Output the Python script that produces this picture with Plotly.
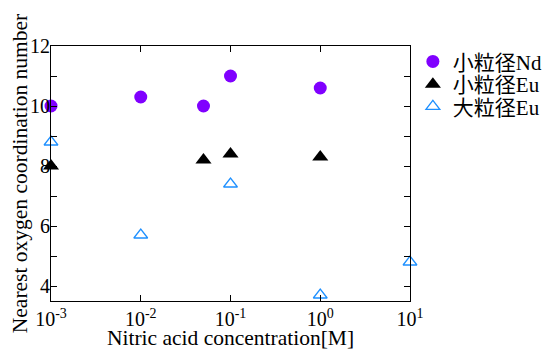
import plotly.graph_objects as go

nd_x = [0.001, 0.01, 0.05, 0.1, 1.0]
nd_y = [10.0, 10.3, 10.0, 11.0, 10.6]

eu_small_x = [0.001, 0.05, 0.1, 1.0]
eu_small_y = [8.0, 8.2, 8.4, 8.3]

eu_large_x = [0.001, 0.01, 0.1, 1.0, 10.0]
eu_large_y = [8.8, 5.7, 7.4, 3.7, 4.8]

names = ["小粒径Nd", "小粒径Eu", "大粒径Eu"]
x_tickvals = [0.001, 0.01, 0.1, 1, 10]
x_ticktext = ["10<sup>-3</sup>", "10<sup>-2</sup>", "10<sup>-1</sup>", "10<sup>0</sup>", "10<sup>1</sup>"]

FONT = "Liberation Serif, Times New Roman, Noto Sans CJK JP, serif"

fig = go.Figure()
fig.add_trace(go.Scatter(x=nd_x, y=nd_y, mode="markers", name=names[0],
                         marker=dict(symbol="circle", size=13, color="#8000ff"),
                         cliponaxis=False, legend="legend"))
fig.add_trace(go.Scatter(x=eu_small_x, y=eu_small_y, mode="markers", name=names[1],
                         marker=dict(symbol="triangle-up", size=14, color="black"),
                         cliponaxis=False, legend="legend2"))
fig.add_trace(go.Scatter(x=eu_large_x, y=eu_large_y, mode="markers", name=names[2],
                         marker=dict(symbol="triangle-up-open", size=12, color="#1e90ff",
                                     line=dict(width=1.3, color="#1e90ff")),
                         cliponaxis=False, legend="legend3"))

def leg(y):
    return dict(x=1.008, y=y, xanchor="left", yanchor="middle",
                font=dict(size=21, family=FONT), bgcolor="rgba(0,0,0,0)",
                itemsizing="trace")

# page body has an 8px default margin; figure is sized so plot area lands as in reference
fig.update_layout(
    width=542, height=342,
    margin=dict(l=43, r=140, t=38, b=49, autoexpand=False),
    paper_bgcolor="white", plot_bgcolor="white",
    font=dict(family=FONT, color="black"),
    showlegend=True,
    legend=leg(0.938), legend2=leg(0.849), legend3=leg(0.762),
    xaxis=dict(type="log", range=[-3, 1], tickvals=x_tickvals, ticktext=x_ticktext,
               ticks="inside", ticklen=6, tickcolor="black", showline=True,
               linecolor="black", linewidth=1.2, mirror="ticks", showgrid=False,
               zeroline=False, tickfont=dict(size=20, family=FONT), automargin=False,
               title=dict(text="Nitric acid concentration[M]", font=dict(size=21.5, family=FONT),
                          standoff=15)),
    yaxis=dict(range=[3.5, 12], tickvals=[4, 6, 8, 10, 12], ticks="inside", ticklen=6,
               tickcolor="black", showline=True, linecolor="black", linewidth=1.2,
               mirror="ticks", showgrid=False, zeroline=False, automargin=False,
               minor=dict(dtick=1, tick0=0, ticks="inside", ticklen=6, tickcolor="black"),
               tickfont=dict(size=20, family=FONT), ticklabelstandoff=-4,
               title=dict(text="Nearest oxygen coordination number",
                          font=dict(size=21.5, family=FONT), standoff=2)),
)

fig.write_html("out.html")
